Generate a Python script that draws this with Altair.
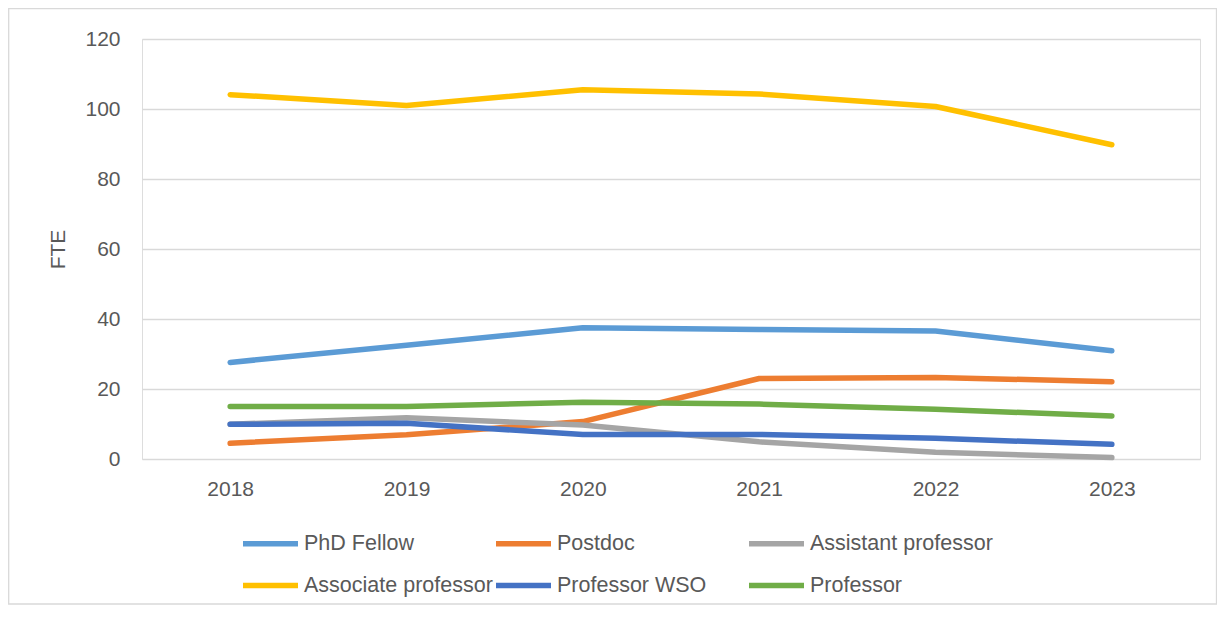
import altair as alt
import pandas as pd

years = ["2018", "2019", "2020", "2021", "2022", "2023"]
series_names = ["PhD Fellow", "Postdoc", "Assistant professor",
                "Associate professor", "Professor WSO", "Professor"]
phd_fellow = [27.6, 32.5, 37.5, 37.0, 36.6, 30.9]
postdoc = [4.5, 6.9, 10.7, 23.0, 23.3, 22.1]
assistant_professor = [9.9, 11.8, 9.7, 4.9, 1.9, 0.4]
associate_professor = [104.1, 101.0, 105.5, 104.3, 100.7, 89.8]
professor_wso = [9.9, 10.2, 7.0, 7.0, 5.9, 4.2]
professor = [15.0, 15.0, 16.2, 15.7, 14.2, 12.3]
colors = ["#5B9BD5", "#ED7D31", "#A5A5A5", "#FFC000", "#4472C4", "#70AD47"]
y_ticks = [0, 20, 40, 60, 80, 100, 120]

series_values = [phd_fellow, postdoc, assistant_professor,
                 associate_professor, professor_wso, professor]
rows = []
for i, (name, vals) in enumerate(zip(series_names, series_values)):
    for y, v in zip(years, vals):
        rows.append({"Year": y, "Series": name, "FTE": v, "order": i})
df = pd.DataFrame(rows)

FONT = "Liberation Sans"
TXT = "#595959"

lines = alt.Chart(df).mark_line(strokeWidth=5.5, strokeCap="round", strokeJoin="round").encode(
    x=alt.X("Year:N", sort=years,
            scale=alt.Scale(type="point", padding=0.5),
            axis=alt.Axis(title=None, labelAngle=0, ticks=False, tickSize=0, domain=False,
                          grid=False, labelPadding=19, labelFontSize=21,
                          labelColor=TXT, labelFont=FONT)),
    y=alt.Y("FTE:Q", scale=alt.Scale(domain=[0, 120], nice=False),
            axis=alt.Axis(title="FTE", values=y_ticks, ticks=False, tickSize=0, domain=False,
                          gridColor="#D9D9D9", gridWidth=1.3, labelPadding=22,
                          labelFontSize=21, labelColor=TXT, labelFont=FONT,
                          titleFontSize=21, titleColor=TXT, titleFont=FONT,
                          titleFontWeight="normal", titlePadding=16)),
    color=alt.Color("Series:N", sort=series_names,
                    scale=alt.Scale(domain=series_names, range=colors),
                    legend=alt.Legend(title=None, orient="none", legendX=98, legendY=474,
                                      direction="horizontal",
                                      columns=3, gridAlign="all", columnPadding=-9,
                                      rowPadding=-5, symbolType="stroke",
                                      symbolSize=3025, symbolStrokeWidth=5.5,
                                      labelOffset=3, labelFontSize=21.5, labelColor=TXT,
                                      labelFont=FONT, labelLimit=400, padding=0)),
    order=alt.Order("order:Q"),
    detail="Series:N",
)

frame = alt.Chart(pd.DataFrame({"a": [0]})).mark_rect(
    fill="transparent", stroke="#D9D9D9", strokeWidth=1.3, clip=False
).encode(
    x=alt.value(-133.3), x2=alt.value(1074.5), y=alt.value(-30.3), y2=alt.value(565)
)

chart = alt.layer(frame, lines).properties(
    width=1058, height=420,
    autosize=alt.AutoSizeParams(type="none"),
    padding={"left": 134, "top": 31, "right": 17, "bottom": 146},
).configure_view(stroke=None).configure(background="white")

chart.save("out.html", embed_options={"renderer": "svg", "actions": False})
